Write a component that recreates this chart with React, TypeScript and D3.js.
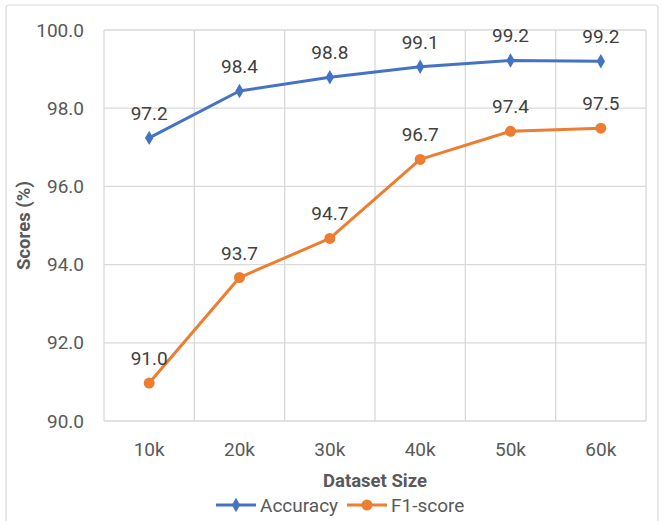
import React from "react";
import * as d3 from "d3";

const categories = ["10k", "20k", "30k", "40k", "50k", "60k"];
const accuracy = [97.24, 98.44, 98.79, 99.06, 99.22, 99.2];
const f1Score = [90.97, 93.67, 94.67, 96.69, 97.41, 97.49];
const yTicks = [90, 92, 94, 96, 98, 100];
const seriesNames = ["Accuracy", "F1-score"];

const W = 662;
const H = 521;
const plot = { left: 104, right: 646, top: 30, bottom: 421 };
const BLUE = "#4472C4";
const ORANGE = "#ED7D31";
const FONT = "Roboto, 'Open Sans', sans-serif";

export default function App() {
  const x = d3
    .scalePoint<string>()
    .domain(categories)
    .range([plot.left, plot.right])
    .padding(0.5);
  const band = (plot.right - plot.left) / categories.length;
  const y = d3.scaleLinear().domain([90, 100]).range([plot.bottom, plot.top]);
  const line = d3
    .line<number>()
    .x((_, i) => x(categories[i]) as number)
    .y((d) => y(d));

  const boundaries = d3.range(categories.length + 1).map((i) => plot.left + i * band);

  const diamond = d3.symbol().type(d3.symbolDiamond).size(60)();

  return (
    <svg
      width={W}
      height={H}
      style={{ position: "absolute", left: 0, top: 0, background: "#fff" }}
    >
      <rect x={6} y={5} width={652} height={530} rx={3} fill="#fff" stroke="#d9d9d9" strokeWidth={1.2} />
      {yTicks.map((t) => (
        <line key={"h" + t} x1={plot.left} x2={plot.right} y1={y(t)} y2={y(t)} stroke="#d9d9d9" strokeWidth={1.3} />
      ))}
      {boundaries.map((bx, i) => (
        <line key={"v" + i} x1={bx} x2={bx} y1={plot.top} y2={plot.bottom} stroke="#d9d9d9" strokeWidth={1.3} />
      ))}
      {yTicks.map((t) => (
        <text
          key={"yl" + t}
          x={84}
          y={y(t)}
          dy="0.35em"
          textAnchor="end"
          fontFamily={FONT}
          fontSize={19}
          fill="#595959"
        >
          {t.toFixed(1)}
        </text>
      ))}
      {categories.map((c) => (
        <text key={"xl" + c} x={x(c)} y={456} textAnchor="middle" fontFamily={FONT} fontSize={19} fill="#595959">
          {c}
        </text>
      ))}
      <text x={(plot.left + plot.right) / 2} y={487} textAnchor="middle" fontFamily={FONT} fontSize={18.5} fontWeight="bold" fill="#595959">
        Dataset Size
      </text>
      <text
        transform={`translate(30, ${(plot.top + plot.bottom) / 2}) rotate(-90)`}
        textAnchor="middle"
        fontFamily={FONT}
        fontSize={18.5}
        fontWeight="bold"
        fill="#595959"
      >
        Scores (%)
      </text>
      <path d={line(accuracy) as string} fill="none" stroke={BLUE} strokeWidth={3} strokeLinejoin="round" />
      <path d={line(f1Score) as string} fill="none" stroke={ORANGE} strokeWidth={3} strokeLinejoin="round" />
      {accuracy.map((v, i) => (
        <path key={"am" + i} d={diamond as string} transform={`translate(${x(categories[i])},${y(v)})`} fill={BLUE} />
      ))}
      {f1Score.map((v, i) => (
        <circle key={"fm" + i} cx={x(categories[i])} cy={y(v)} r={5.5} fill={ORANGE} />
      ))}
      {accuracy.map((v, i) => (
        <text key={"al" + i} x={x(categories[i])} y={y(v) - 18} textAnchor="middle" fontFamily={FONT} fontSize={19} fill="#404040">
          {v.toFixed(1)}
        </text>
      ))}
      {f1Score.map((v, i) => (
        <text key={"fl" + i} x={x(categories[i])} y={y(v) - 18} textAnchor="middle" fontFamily={FONT} fontSize={19} fill="#404040">
          {v.toFixed(1)}
        </text>
      ))}
      <g>
        <line x1={216} x2={256} y1={505} y2={505} stroke={BLUE} strokeWidth={3} />
        <path d={diamond as string} transform="translate(236,505)" fill={BLUE} />
        <text x={260} y={511.5} fontFamily={FONT} fontSize={19} fill="#595959">
          {seriesNames[0]}
        </text>
        <line x1={347} x2={387} y1={505} y2={505} stroke={ORANGE} strokeWidth={3} />
        <circle cx={367} cy={505} r={5.5} fill={ORANGE} />
        <text x={391} y={511.5} fontFamily={FONT} fontSize={19} fill="#595959">
          {seriesNames[1]}
        </text>
      </g>
    </svg>
  );
}
